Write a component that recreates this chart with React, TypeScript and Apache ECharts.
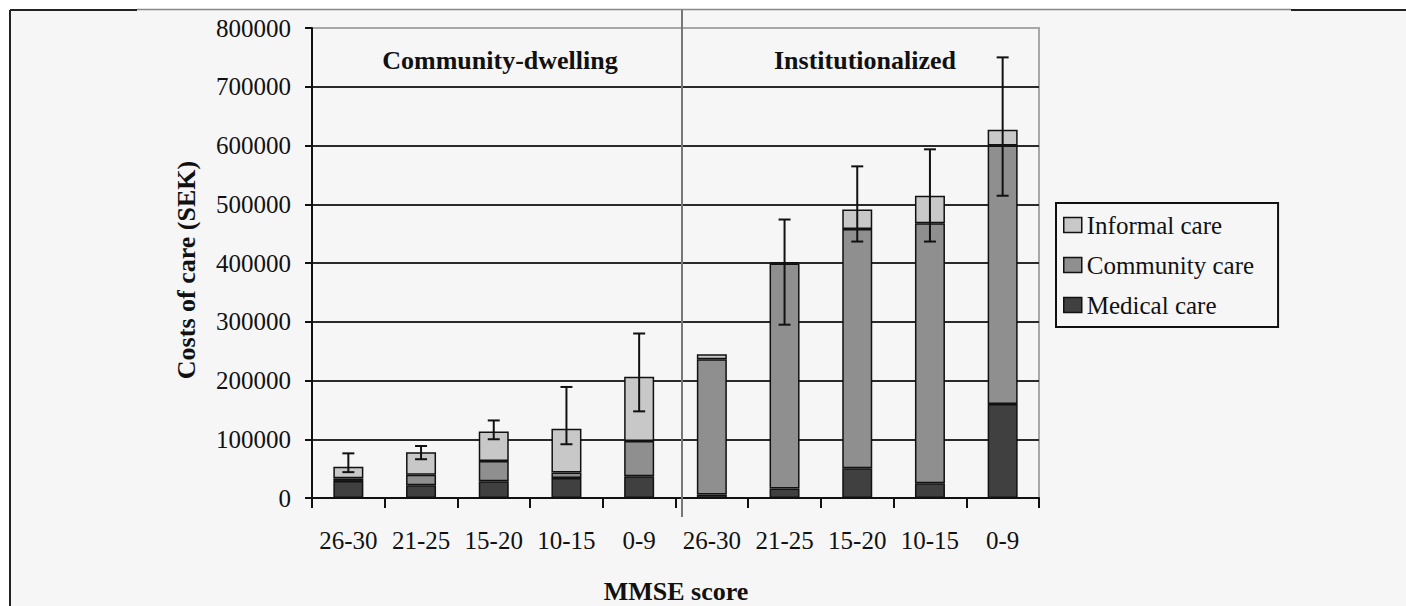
import React, { useEffect, useRef } from "react";
import * as echarts from "echarts";

const categories = ["26-30", "21-25", "15-20", "10-15", "0-9", "26-30", "21-25", "15-20", "10-15", "0-9"];
const groups = ["Community-dwelling", "Institutionalized"];
const seriesNames = ["Medical care", "Community care", "Informal care"];
const medical = [29000, 21500, 28500, 34000, 37000, 6000, 16000, 50500, 25000, 160000];
const community = [4500, 18000, 34500, 9500, 60000, 230000, 383000, 407500, 442500, 440000];
const informal = [19500, 38500, 50000, 74500, 109500, 8500, 2500, 33000, 47000, 27000];
const errLow = [44000, 66000, 100000, 91500, 147500, null, 295000, 436500, 436500, 514500];
const errHigh = [76000, 88500, 132000, 189000, 280000, null, 474000, 564500, 593500, 750000];
const yMax = 800000;
const yStep = 100000;

const FONT = "'Liberation Serif', 'DejaVu Serif', serif";

export default function App() {
  const ref = useRef<HTMLDivElement>(null);
  useEffect(() => {
    if (!ref.current) return;
    const chart = echarts.init(ref.current, null, { renderer: "svg" });
    const barStyle = (color: string) => ({ color, borderColor: "#111", borderWidth: 1.5 });
    const errData = errLow
      .map((lo, i) => (lo == null || errHigh[i] == null ? null : [i, lo, errHigh[i]]))
      .filter((d) => d !== null);
    const splitColors = Array.from({ length: yMax / yStep + 1 }, (_, i) => (i === yMax / yStep ? "#a8a8a8" : "#2a2a2a"));
    chart.setOption({
      animation: false,
      backgroundColor: "#ffffff",
      grid: {
        left: 312,
        top: 28,
        width: 727,
        height: 470,
        show: true,
        backgroundColor: "transparent",
        borderColor: "#a8a8a8",
        borderWidth: 2,
      },
      legend: {
        orient: "vertical",
        left: 1056,
        top: 203,
        data: ["Informal care", "Community care", "Medical care"],
        borderColor: "#111",
        borderWidth: 2,
        padding: [9, 24, 9, 7],
        itemGap: 14,
        itemWidth: 18,
        itemHeight: 15,
        icon: "rect",
        itemStyle: { borderColor: "#111", borderWidth: 1.5 },
        textStyle: { fontFamily: FONT, fontSize: 25, color: "#111", lineHeight: 26 },
      },
      xAxis: {
        type: "category",
        data: categories,
        axisLine: { lineStyle: { color: "#111", width: 2 } },
        axisTick: { show: true, length: 10, lineStyle: { color: "#111", width: 2 } },
        axisLabel: { fontFamily: FONT, fontSize: 25, color: "#111", margin: 30, interval: 0 },
        splitLine: { show: false },
      },
      yAxis: {
        type: "value",
        min: 0,
        max: yMax,
        interval: yStep,
        axisLine: { show: true, lineStyle: { color: "#111", width: 2 } },
        axisTick: { show: true, length: 7, lineStyle: { color: "#111", width: 2 } },
        axisLabel: { fontFamily: FONT, fontSize: 25, color: "#111", margin: 21, formatter: (v: number) => String(v) },
        splitLine: { show: true, lineStyle: { color: splitColors, width: 2 } },
      },
      series: [
        { name: seriesNames[0], type: "bar", stack: "total", barWidth: 30, data: medical, itemStyle: barStyle("#404040") },
        { name: seriesNames[1], type: "bar", stack: "total", barWidth: 30, data: community, itemStyle: barStyle("#8f8f8f") },
        { name: seriesNames[2], type: "bar", stack: "total", barWidth: 30, data: informal, itemStyle: barStyle("#c8c8c8") },
        {
          type: "custom",
          name: "error",
          z: 10,
          data: errData,
          encode: { x: 0, y: [1, 2] },
          renderItem: (_params: any, api: any) => {
            const x = api.value(0);
            const lo = api.coord([x, api.value(1)]);
            const hi = api.coord([x, api.value(2)]);
            const hw = 6;
            const st = { stroke: "#111", lineWidth: 2 };
            return {
              type: "group",
              children: [
                { type: "line", shape: { x1: lo[0], y1: lo[1], x2: hi[0], y2: hi[1] }, style: st },
                { type: "line", shape: { x1: hi[0] - hw, y1: hi[1], x2: hi[0] + hw, y2: hi[1] }, style: st },
                { type: "line", shape: { x1: lo[0] - hw, y1: lo[1], x2: lo[0] + hw, y2: lo[1] }, style: st },
              ],
            };
          },
        },
      ],
      graphic: [
        { type: "rect", z: -100, shape: { x: 10, y: 10, width: 1396, height: 596 }, style: { fill: "#f6f6f6" }, silent: true },
        { type: "line", shape: { x1: 10, y1: 10, x2: 137, y2: 10 }, style: { stroke: "#222", lineWidth: 2 } },
        { type: "line", shape: { x1: 137, y1: 9.5, x2: 1291, y2: 9.5 }, style: { stroke: "#888", lineWidth: 1.5 } },
        { type: "line", shape: { x1: 1291, y1: 10, x2: 1406, y2: 10 }, style: { stroke: "#222", lineWidth: 2 } },
        { type: "line", shape: { x1: 10, y1: 10, x2: 10, y2: 606 }, style: { stroke: "#222", lineWidth: 2 } },
        { type: "line", z: 50, shape: { x1: 682, y1: 10, x2: 682, y2: 517 }, style: { stroke: "#777", lineWidth: 2 } },
        {
          type: "text", x: 500, y: 60,
          style: { text: groups[0], font: `bold 26px ${FONT}`, fill: "#111", align: "center", verticalAlign: "middle" },
        },
        {
          type: "text", x: 865, y: 60,
          style: { text: groups[1], font: `bold 26px ${FONT}`, fill: "#111", align: "center", verticalAlign: "middle" },
        },
        {
          type: "text", x: 676, y: 591,
          style: { text: "MMSE score", font: `bold 26px ${FONT}`, fill: "#111", align: "center", verticalAlign: "middle" },
        },
        {
          type: "text", x: 186, y: 270, rotation: Math.PI / 2,
          style: { text: "Costs of care (SEK)", font: `bold 26px ${FONT}`, fill: "#111", align: "center", verticalAlign: "middle" },
        },
      ],
    });
    return () => chart.dispose();
  }, []);
  return <div ref={ref} style={{ position: "fixed", left: 0, top: 0, width: 1406, height: 606 }} />;
}
